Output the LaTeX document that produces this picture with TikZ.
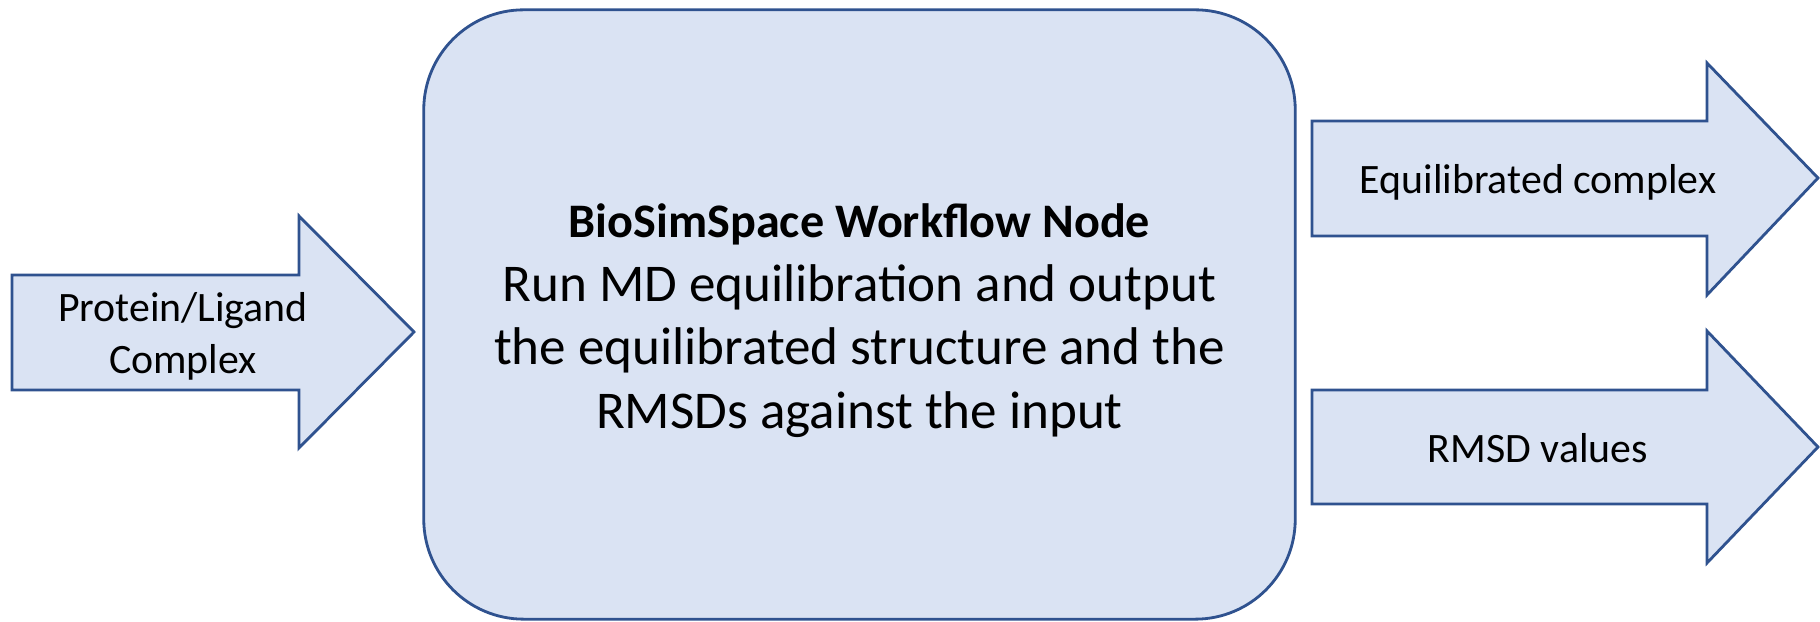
\documentclass[tikz,border=0pt]{standalone}
\usepackage{fontspec}
\setmainfont{Carlito}
\usetikzlibrary{positioning}

\definecolor{boxfill}{HTML}{DAE3F3}
\definecolor{boxline}{HTML}{2F528F}

\tikzset{
	blockarrow/.style={fill=boxfill, draw=boxline, line width=0.8pt, line join=miter},
	wfbox/.style={fill=boxfill, draw=boxline, line width=0.8pt, rounded corners=1cm,
		minimum width=8.71cm, minimum height=6.09cm},
	bodytext/.style={align=center, inner sep=0pt, font=\fontsize{15.1}{18.1}\selectfont},
	arrowtext/.style={align=center, inner sep=0pt, font=\fontsize{11.9}{14.8}\selectfont}
}

\begin{document}
\begin{tikzpicture}[x=0.01cm, y=-0.01cm]
		\useasboundingbox (0,0) rectangle (1820,622);
		
		% input arrow
		\draw[blockarrow] (12,275) to (299,275) to (299,216) to (414,332) to (299,448) to (299,390) to (12,390) to cycle;
		\node[arrowtext] (input) at (183,336) {Protein/Ligand\\Complex};
		
		% workflow node
		\node[wfbox] (wfnode) at (859.5,314.5) {};
		\node[bodytext] (wftext) at ([yshift=-0.06cm]wfnode.center) {{\fontsize{13.7}{16.5}\selectfont\bfseries BioSimSpace Workflow Node}\\Run MD equilibration and output\\the equilibrated structure and the\\RMSDs against the input};
		
		% output arrows
		\draw[blockarrow] (1312,121) to (1707,121) to (1707,63) to (1818,178) to (1707,295) to (1707,236) to (1312,236) to cycle;
		\node[arrowtext] (outcplx) at (1538,182) {Equilibrated complex};
		
		\draw[blockarrow] (1312,390) to (1707,390) to (1707,331) to (1818,447) to (1707,563) to (1707,504) to (1312,504) to cycle;
		\node[arrowtext] (outrmsd) at (1538,448) {RMSD values};
\end{tikzpicture}
\end{document}
